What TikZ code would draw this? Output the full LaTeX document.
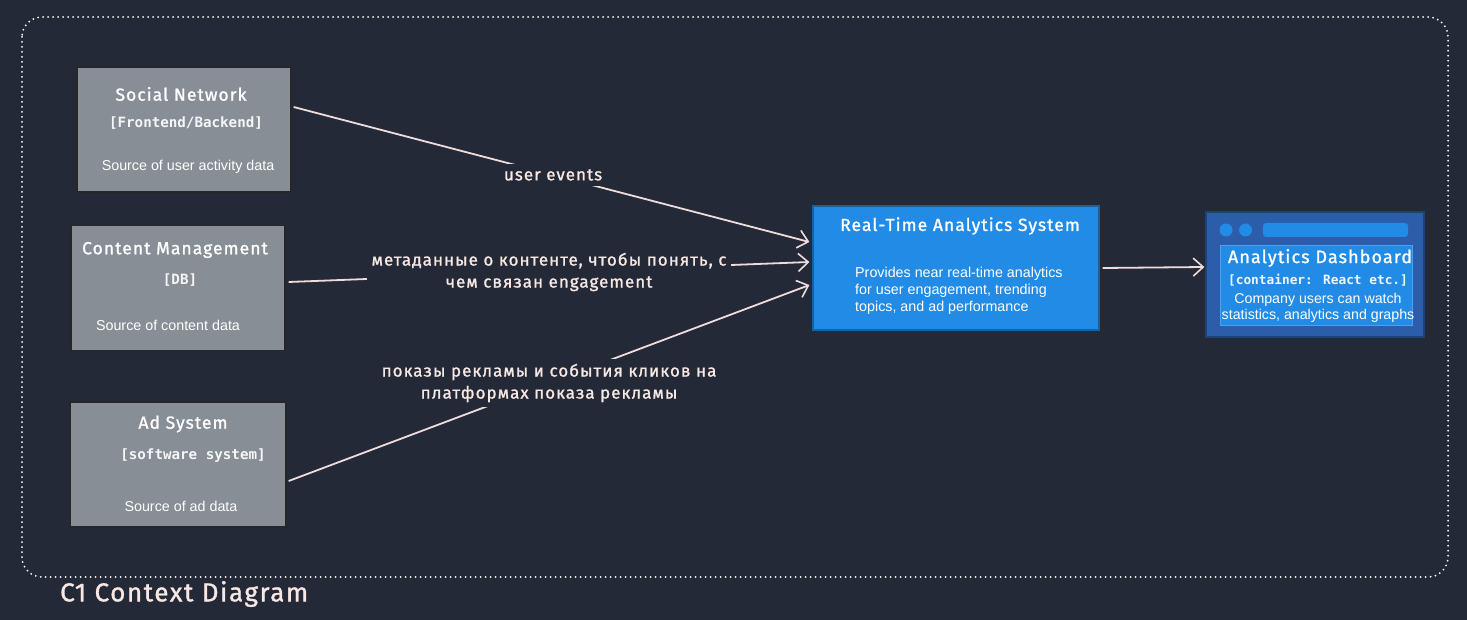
\documentclass[tikz,border=0pt]{standalone}
\usepackage{fontspec}
\setmainfont{Liberation Sans}
\newfontfamily\hand[LetterSpace=6,FakeBold=1.2]{Fira Sans}
\newfontfamily\mono{DejaVu Sans Mono}
\usetikzlibrary{arrows.meta,calc}
\definecolor{bg}{HTML}{232936}
\definecolor{graybox}{HTML}{878E96}
\definecolor{blu}{HTML}{228BE6}
\definecolor{dblu}{HTML}{2B5DAA}
\definecolor{arr}{HTML}{F0DCDC}
\definecolor{lbl}{HTML}{F8E8E4}
\tikzset{
  box/.style={draw=black!85, line width=1.3pt, fill=graybox, minimum width=214pt, minimum height=125pt, inner sep=0pt},
  ttl/.style={text=white, font=\hand\fontsize{17.5}{20}\selectfont, inner sep=0pt},
  tech/.style={text=white!92!graybox, font=\mono\bfseries\fontsize{14.2}{16}\selectfont, inner sep=0pt},
  desc/.style={text=white, font=\fontsize{14.3}{17}\selectfont, inner sep=0pt},
  conn/.style={draw=arr, line width=1.8pt, -{Straight Barb[length=10pt,width=18pt,line width=1.6pt]}},
  lab/.style={fill=bg, text=lbl, font=\hand\fontsize{17}{22}\selectfont, align=center, inner sep=5pt},
}
\begin{document}
\begin{tikzpicture}[x=1pt,y=-1pt]
\fill[bg] (0,0) rectangle (1467,620);
\useasboundingbox (0,0) rectangle (1467,620);
% frame
\draw[white, line width=2pt, line cap=round, dash pattern=on 0pt off 5pt, rounded corners=20pt] (22,17) rectangle (1448,577);
\node[text=lbl, font=\hand\fontsize{26}{30}\selectfont, anchor=west, inner sep=0pt] (title) at (60,594) {C1 Context Diagram};

% Social Network
\node[box] (sn) at (184,129.5) {};
\node[ttl] (snt) at (181,94) {Social Network};
\node[tech] (snk) at (186,123) {[Frontend/Backend]};
\node[desc] (snd) at (188,167) {Source of user activity data};

% Content Management
\node[box] (cm) at (178,288) {};
\node[ttl] (cmt) at (175,250) {Content Management};
\node[tech] (cmk) at (180,280) {[DB]};
\node[desc] (cmd) at (168,325) {Source of content data};

% Ad System
\node[box, minimum width=216pt] (ad) at (178,464.5) {};
\node[ttl] (adt) at (183,424) {Ad System};
\node[tech] (adk) at (193,456) {[software system]};
\node[desc] (add) at (181,506) {Source of ad data};

% Real-Time Analytics System
\node[draw=blu!70!black, line width=1.2pt, fill=blu, minimum width=286pt, minimum height=124pt, inner sep=0pt] (rt) at (956,268) {};
\node[ttl] (rtt) at (960,226) {Real-Time Analytics System};
\node[desc, anchor=west, align=left] (rtd) at (855,291) {Provides near real-time analytics\\for user engagement, trending\\topics, and ad performance};

% Dashboard
\node[draw=dblu!70!black, line width=1.2pt, fill=dblu, minimum width=218pt, minimum height=125pt, inner sep=0pt] (db) at (1315,274.5) {};
\node[fill=blu, circle, minimum size=13pt, inner sep=0pt] (dot1) at (1226,230) {};
\node[fill=blu, circle, minimum size=13pt, inner sep=0pt] (dot2) at (1245.5,230) {};
\node[fill=blu, rounded corners=3pt, minimum width=145pt, minimum height=14pt, inner sep=0pt] (bar) at (1335.5,230) {};
\node[draw=blu!80!white, line width=0.8pt, fill=blu, minimum width=192pt, minimum height=80pt, inner sep=0pt] (dbin) at (1316,285) {};
\node[ttl, font=\hand\fontsize{18}{20}\selectfont] (dbt) at (1320,258) {Analytics Dashboard};
\node[tech, text=white!92!blu, font=\mono\bfseries\fontsize{12.8}{15}\selectfont] (dbk) at (1318,280) {[container: React etc.]};
\node[desc, align=center, font=\fontsize{14.2}{16}\selectfont] (dbd) at (1318,308) {Company users can watch\\statistics, analytics and graphs};

% connectors
\draw[conn] ([xshift=2pt,yshift=22.5pt]sn.east) -- node[lab, pos=0.503] (l1) {user events} ([xshift=-3pt,yshift=26pt]rt.west);
\draw[conn] ([xshift=3pt,yshift=6pt]cm.east) -- node[lab, pos=0.5] (l2) {метаданные о контенте, чтобы понять, с\\чем связан engagement} ([xshift=-3pt,yshift=6pt]rt.west);
\draw[conn] ([xshift=2pt,yshift=-16.5pt]ad.east) -- node[lab, pos=0.5] (l3) {показы рекламы и события кликов на\\платформах показа рекламы} ([xshift=-3pt,yshift=-17pt]rt.west);
\draw[conn] ([xshift=3pt]rt.east) -- ([xshift=-1pt,yshift=7.5pt]db.west);
\end{tikzpicture}
\end{document}
